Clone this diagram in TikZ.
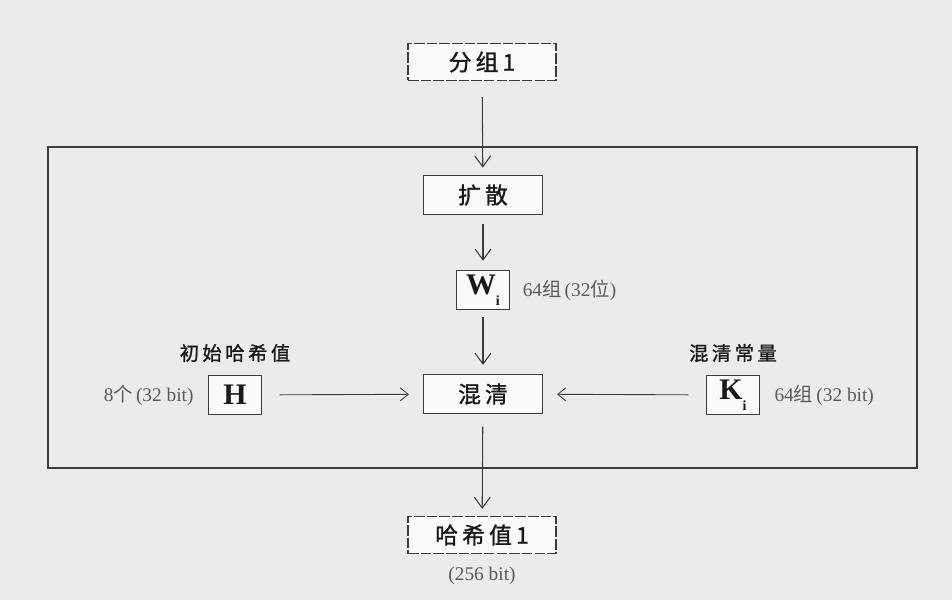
\documentclass[tikz,border=0pt]{standalone}
\usepackage{fontspec}
\setmainfont{Liberation Serif}
\newfontfamily\cjk{Noto Sans CJK SC}
\newfontfamily\cjkwide[LetterSpace=18,FakeBold=1.2]{Noto Sans CJK SC}
\usetikzlibrary{arrows.meta,positioning}
\definecolor{BG}{RGB}{235,235,235}
\definecolor{BX}{RGB}{250,250,250}
\definecolor{LN}{RGB}{60,60,60}
\definecolor{TX}{RGB}{25,25,25}
\definecolor{NT}{RGB}{90,90,90}
\tikzset{
  % main step box
  stepbox/.style={
    draw=LN, fill=BX, line width=0.6pt,
    minimum width=23.8mm, minimum height=7.9mm,
    inner sep=0pt, font=\cjkwide\fontsize{13}{15}\selectfont, text=TX
  },
  % input / output box
  endbox/.style={
    stepbox, dash pattern=on 6pt off 1.2pt,
    minimum width=29.6mm, minimum height=7.4mm
  },
  % single letter box
  varbox/.style={
    draw=LN, fill=BX, line width=0.7pt,
    minimum width=10.6mm, minimum height=7.9mm,
    inner sep=0pt, font=\bfseries\fontsize{17}{18}\selectfont, text=TX
  },
  % side notes
  note/.style={font=\fontsize{11}{13}\selectfont, text=NT, inner sep=0pt},
  head/.style={font=\cjkwide\fontsize{11}{13}\selectfont, text=TX, inner sep=0pt},
  flow/.style={-{Straight Barb[length=2.2mm,width=3.2mm]}, line width=0.6pt, draw=LN},
  side/.style={-{Straight Barb[length=1.6mm,width=2.6mm]}, line width=0.5pt, draw=LN},
}
\begin{document}
\begin{tikzpicture}[x=0.2mm, y=-0.2mm]
\useasboundingbox[fill=BG] (0,0) rectangle (952,600);

% ── Outer frame ──────────────────────────────────────────────────────────────
\node[draw=LN, line width=0.7pt, minimum width=173.8mm, minimum height=64.2mm,
  inner sep=0pt] (frame) at (482.5,307.5) {};

% ── Main column ──────────────────────────────────────────────────────────────
\node[endbox] (grp) at (482,62) {分组1};
\node[stepbox] (exp) at (483,195) {扩散};
\node[varbox] (w) at (483,290) {W\raisebox{-0.8ex}{\fontsize{8}{8}\selectfont i}};
\node[stepbox] (mix) at (483,394) {混清};
\node[endbox] (out) at (482,535) {哈希值1};

% ── Side inputs ──────────────────────────────────────────────────────────────
\node[varbox] (h) at (235,395) {H};
\node[varbox] (k) at (733,395) {K\raisebox{-0.8ex}{\fontsize{8}{8}\selectfont i}};

% ── Labels ───────────────────────────────────────────────────────────────────
\node[note, right=7pt of w] (wn) {64{\cjk 组}\,(32{\cjk 位})};
\node[head, above=7pt of h] (hh) {初始哈希值};
\node[note, left=8pt of h] (hn) {8{\cjk 个}\,(32 bit)};
\node[head, above=7pt of k] (kh) {混清常量};
\node[note, right=8pt of k] (kn) {64{\cjk 组}\,(32 bit)};
\node[note, below=7pt of out] (on) {(256 bit)};

% ── Arrows ───────────────────────────────────────────────────────────────────
\draw[flow, shorten <=9pt, shorten >=4pt] (grp) -- (exp);
\draw[flow, shorten <=5pt, shorten >=5pt] (exp) -- (w);
\draw[flow, shorten <=4pt, shorten >=5pt] (w) -- (mix);
\draw[flow, shorten <=7pt, shorten >=4pt] (mix) -- (out);
\draw[side, shorten <=10pt, shorten >=8pt] (h) -- (mix);
\draw[side, shorten <=10pt, shorten >=8pt] (k) -- (mix);

\end{tikzpicture}
\end{document}
